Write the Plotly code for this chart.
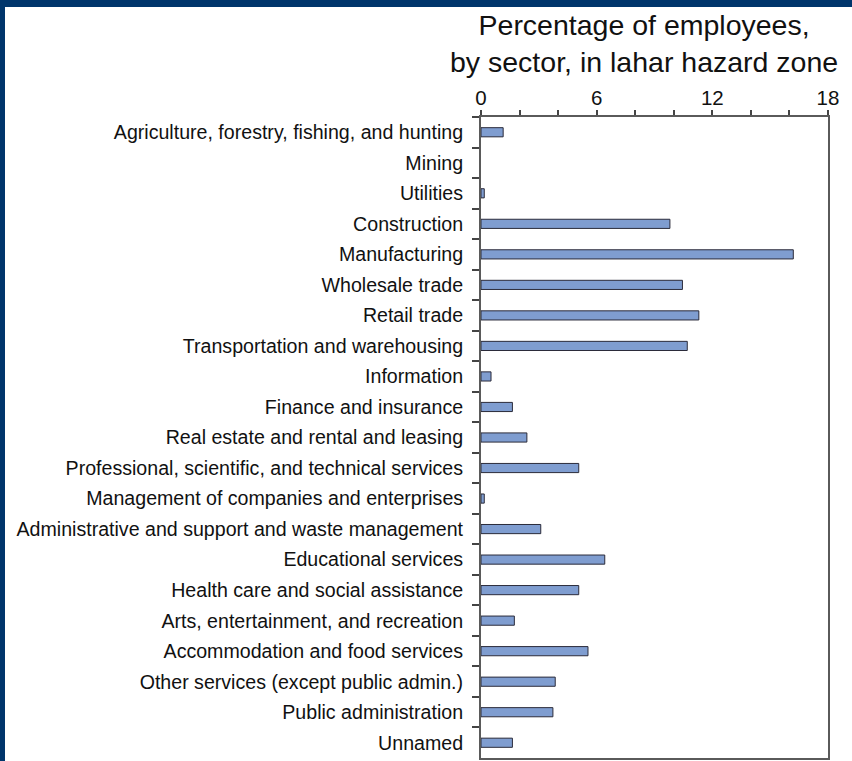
import plotly.graph_objects as go

sectors = [
    "Agriculture, forestry, fishing, and hunting",
    "Mining",
    "Utilities",
    "Construction",
    "Manufacturing",
    "Wholesale trade",
    "Retail trade",
    "Transportation and warehousing",
    "Information",
    "Finance and insurance",
    "Real estate and rental and leasing",
    "Professional, scientific, and technical services",
    "Management of companies and enterprises",
    "Administrative and support and waste management",
    "Educational services",
    "Health care and social assistance",
    "Arts, entertainment, and recreation",
    "Accommodation and food services",
    "Other services (except public admin.)",
    "Public administration",
    "Unnamed",
]
percent = [1.15, 0.0, 0.17, 9.8, 16.2, 10.45, 11.3, 10.7, 0.52, 1.63, 2.38,
           5.07, 0.17, 3.1, 6.42, 5.07, 1.73, 5.55, 3.85, 3.73, 1.63]
x_ticks = [0, 6, 12, 18]

W, H = 852, 761
L, R, T, B = 481, 24, 117, 3
pw, ph = W - L - R, H - T - B

def px_x(p):
    return (p - L) / pw

def px_y(p):
    return 1 - (p - T) / ph

outline_widths = [1 if v > 0 else 0 for v in percent]

fig = go.Figure(go.Bar(
    x=percent, y=sectors, orientation="h",
    marker=dict(color="#7F9DD0", line=dict(color="#2b2b3a", width=outline_widths)),
))

font = "Liberation Sans, Arial, sans-serif"
fig.update_layout(
    width=W, height=H,
    margin=dict(l=L, r=R, t=T, b=B, autoexpand=False),
    paper_bgcolor="white", plot_bgcolor="white",
    bargap=0.7, showlegend=False,
    font=dict(family=font, color="#111111"),
    xaxis=dict(
        side="top", range=[0, 18], tickvals=x_ticks, ticks="outside",
        ticklen=5, tickwidth=1.5, tickcolor="#444", showgrid=False,
        showline=True, linecolor="#5a5a5a", linewidth=2, mirror=True,
        zeroline=False, ticklabelstandoff=-3,
        tickfont=dict(size=20.5, family=font, color="#111111"),
        minor=dict(dtick=2, ticks="outside", ticklen=5, tickwidth=1.5, tickcolor="#444", showgrid=False),
        fixedrange=True,
    ),
    yaxis=dict(
        autorange="reversed", ticks="outside", tickson="boundaries", ticklen=7,
        tickwidth=1.5, tickcolor="#444", showgrid=False,
        showline=True, linecolor="#5a5a5a", linewidth=2, mirror=True,
        ticklabelstandoff=12,
        tickfont=dict(size=19.6, family=font, color="#111111"),
    ),
    annotations=[dict(
        text="Percentage of employees,<br>by sector, in lahar hazard zone",
        x=px_x(644), y=px_y(80), xref="paper", yref="paper",
        xanchor="center", yanchor="bottom", showarrow=False,
        font=dict(size=28.5, family=font, color="#111111"),
    )],
    shapes=[
        dict(type="rect", xref="paper", yref="paper", x0=px_x(0), x1=px_x(W),
             y0=px_y(7), y1=px_y(0), fillcolor="#00356B", line=dict(width=0), layer="above"),
        dict(type="rect", xref="paper", yref="paper", x0=px_x(0), x1=px_x(5),
             y0=px_y(H), y1=px_y(0), fillcolor="#00356B", line=dict(width=0), layer="above"),
    ],
)

fig.write_html("out.html", config={"displayModeBar": False},
               post_script="document.body.style.margin='0';")
